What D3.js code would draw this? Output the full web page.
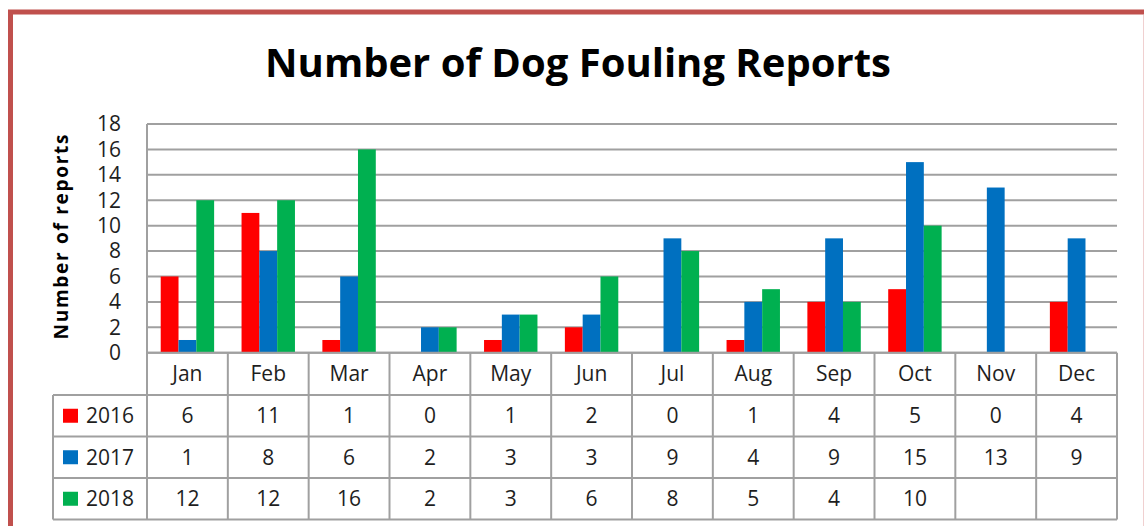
<!DOCTYPE html>
<html lang="en">
<head>
<meta charset="utf-8">
<title>Number of Dog Fouling Reports</title>
<script src="https://d3js.org/d3.v7.min.js"></script>
<style>
  body { margin: 0; background: #fff; }
  svg { display: block; font-family: "Open Sans", sans-serif; }
  .grid line { stroke: #a0a0a0; stroke-width: 2px; }
  .table line { stroke: #a0a0a0; stroke-width: 2px; }
  .tick-label, .cell, .cat { fill: #1e1e1e; font-size: 21px; }
</style>
</head>
<body>
<div id="chart"></div>
<script>
// chart data
var months = ["Jan", "Feb", "Mar", "Apr", "May", "Jun", "Jul", "Aug", "Sep", "Oct", "Nov", "Dec"];
var years = ["2016", "2017", "2018"];
var reports2016 = [6, 11, 1, 0, 1, 2, 0, 1, 4, 5, 0, 4];
var reports2017 = [1, 8, 6, 2, 3, 3, 9, 4, 9, 15, 13, 9];
var reports2018 = [12, 12, 16, 2, 3, 6, 8, 5, 4, 10, null, null];
var yTicks = [0, 2, 4, 6, 8, 10, 12, 14, 16, 18];

var colors = { "2016": "#ff0000", "2017": "#0070c0", "2018": "#00b050" };
var seriesByYear = { "2016": reports2016, "2017": reports2017, "2018": reports2018 };

var W = 1144, H = 526;
var plot = { left: 147, right: 1117, top: 124, bottom: 352.7 };
var headerH = 42.3, rowH = 41.5, legendLeft = 53;

var svg = d3.select("#chart").append("svg")
    .attr("width", W)
    .attr("height", H);

// outer frame
svg.append("rect")
    .attr("x", 10.5).attr("y", 12)
    .attr("width", 1138).attr("height", 530)
    .attr("fill", "#fff")
    .attr("stroke", "#c0504d")
    .attr("stroke-width", 5);
svg.append("line")
    .attr("x1", 1143.5).attr("x2", 1143.5)
    .attr("y1", 15).attr("y2", H)
    .attr("stroke", "#f0d0d0").attr("stroke-width", 1);

// title
svg.append("text")
    .attr("x", 578).attr("y", 77)
    .attr("text-anchor", "middle")
    .attr("font-weight", "bold")
    .attr("font-size", 40)
    .attr("fill", "#000")
    .text("Number of Dog Fouling Reports");

var x = d3.scaleBand()
    .domain(months)
    .range([plot.left, plot.right]);

var xYear = d3.scaleBand()
    .domain(years)
    .range([0, x.bandwidth()])
    .paddingOuter(0.77);

var y = d3.scaleLinear()
    .domain([0, 18])
    .range([plot.bottom, plot.top]);

// gridlines
svg.append("g").attr("class", "grid")
  .selectAll("line")
  .data(yTicks)
  .join("line")
    .attr("x1", plot.left).attr("x2", plot.right)
    .attr("y1", function(d) { return y(d); })
    .attr("y2", function(d) { return y(d); });

// y tick labels
svg.append("g")
  .selectAll("text")
  .data(yTicks)
  .join("text")
    .attr("class", "tick-label")
    .attr("x", 121)
    .attr("y", function(d) { return y(d); })
    .attr("dy", "0.35em")
    .attr("text-anchor", "end")
    .text(function(d) { return d; });

// y axis title
svg.append("text")
    .attr("transform", "translate(68,237) rotate(-90)")
    .attr("text-anchor", "middle")
    .attr("font-weight", "bold")
    .attr("font-size", 19)
    .attr("textLength", 205)
    .attr("lengthAdjust", "spacing")
    .attr("fill", "#000")
    .text("Number of reports");

// bars
var barData = [];
years.forEach(function(yr) {
  seriesByYear[yr].forEach(function(v, i) {
    if (v) barData.push({ year: yr, month: months[i], value: v });
  });
});

svg.append("g")
  .selectAll("rect")
  .data(barData)
  .join("rect")
    .attr("x", function(d) { return x(d.month) + xYear(d.year); })
    .attr("width", xYear.bandwidth())
    .attr("y", function(d) { return y(d.value); })
    .attr("height", function(d) { return y(0) - y(d.value); })
    .attr("fill", function(d) { return colors[d.year]; });

// data table
var table = svg.append("g").attr("class", "table");
var tableBottom = plot.bottom + headerH + rowH * years.length;
var rowTop = function(i) { return plot.bottom + headerH + rowH * i; };

// horizontal lines
table.append("line")
    .attr("x1", plot.left).attr("x2", plot.right)
    .attr("y1", plot.bottom).attr("y2", plot.bottom);
d3.range(years.length + 1).forEach(function(i) {
  table.append("line")
      .attr("x1", legendLeft).attr("x2", plot.right)
      .attr("y1", rowTop(i)).attr("y2", rowTop(i));
});

// vertical lines
table.append("line")
    .attr("x1", legendLeft).attr("x2", legendLeft)
    .attr("y1", rowTop(0)).attr("y2", tableBottom);
table.append("line")
    .attr("x1", plot.left).attr("x2", plot.left)
    .attr("y1", plot.top).attr("y2", tableBottom);
months.forEach(function(m) {
  table.append("line")
      .attr("x1", x(m) + x.bandwidth()).attr("x2", x(m) + x.bandwidth())
      .attr("y1", plot.bottom).attr("y2", tableBottom);
});

// month labels
table.selectAll("text.cat")
  .data(months)
  .join("text")
    .attr("class", "cat")
    .attr("x", function(d) { return x(d) + x.bandwidth() / 2; })
    .attr("y", plot.bottom + headerH / 2)
    .attr("dy", "0.35em")
    .attr("text-anchor", "middle")
    .text(function(d) { return d; });

// legend keys and values
years.forEach(function(yr, r) {
  var cy = rowTop(r) + rowH / 2;
  table.append("rect")
      .attr("x", 63).attr("y", cy - 7)
      .attr("width", 15).attr("height", 14)
      .attr("fill", colors[yr]);
  table.append("text")
      .attr("class", "cell")
      .attr("x", 86).attr("y", cy)
      .attr("dy", "0.35em")
      .text(yr);
  table.selectAll("text.v" + yr)
    .data(seriesByYear[yr])
    .join("text")
      .attr("class", "cell v" + yr)
      .attr("x", function(d, i) { return x(months[i]) + x.bandwidth() / 2; })
      .attr("y", cy)
      .attr("dy", "0.35em")
      .attr("text-anchor", "middle")
      .text(function(d) { return d == null ? "" : d; });
});
</script>
</body>
</html>
